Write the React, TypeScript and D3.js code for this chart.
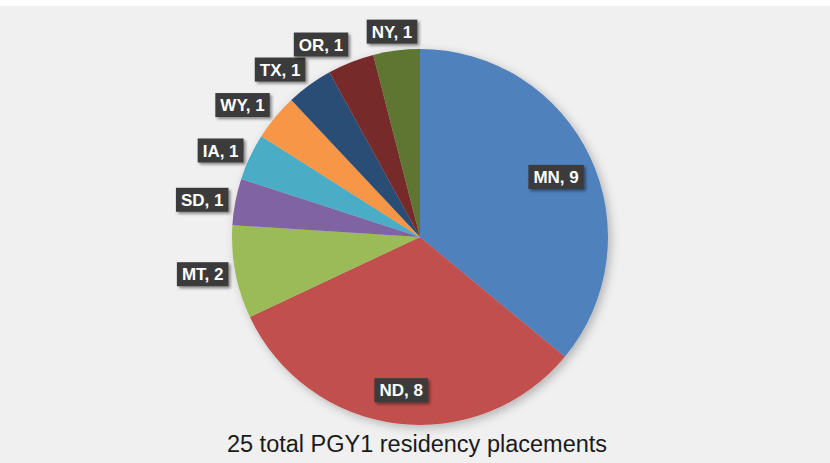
import React, { useEffect, useRef } from 'react';
import * as d3 from 'd3';

const STATES = ['MN', 'ND', 'MT', 'SD', 'IA', 'WY', 'TX', 'OR', 'NY'];
const PLACEMENTS = [9, 8, 2, 1, 1, 1, 1, 1, 1];
const COLORS = ['#4F81BD', '#C0504D', '#9BBB59', '#8064A2', '#4BACC6', '#F79646', '#2C4D75', '#772C2A', '#5F7530'];
const INSIDE = ['MN', 'ND'];
const TITLE = '25 total PGY1 residency placements';

const clamp = (v: number) => Math.max(-1, Math.min(1, v));

const App = () => {
  const ref = useRef<SVGSVGElement>(null);

  useEffect(() => {
    const width = 830;
    const height = 463;
    const cx = 420;
    const cy = 237;
    const radius = 188;

    const svg = d3.select(ref.current);
    svg.selectAll('*').remove();
    svg.attr('width', width).attr('height', height);

    const defs = svg.append('defs');
    const pieShadow = defs.append('filter').attr('id', 'pieShadow')
      .attr('x', '-20%').attr('y', '-20%').attr('width', '140%').attr('height', '140%');
    pieShadow.append('feDropShadow')
      .attr('dx', 3).attr('dy', 3).attr('stdDeviation', 5)
      .attr('flood-color', '#000').attr('flood-opacity', 0.25);

    const boxShadow = defs.append('filter').attr('id', 'boxShadow')
      .attr('x', '-20%').attr('y', '-30%').attr('width', '150%').attr('height', '170%');
    boxShadow.append('feDropShadow')
      .attr('dx', 2).attr('dy', 2).attr('stdDeviation', 1.5)
      .attr('flood-color', '#000').attr('flood-opacity', 0.45);

    // background
    svg.append('rect').attr('width', width).attr('height', height).attr('fill', '#fff');
    svg.append('rect').attr('y', 6).attr('width', width).attr('height', height - 6).attr('fill', '#f0f0f0');

    const data = STATES.map((name, i) => ({ name, value: PLACEMENTS[i] }));
    const pie = d3.pie<{ name: string; value: number }>().value(d => d.value).sort(null);
    const arcs = pie(data);
    const arc = d3.arc<d3.PieArcDatum<{ name: string; value: number }>>()
      .innerRadius(0).outerRadius(radius);

    const g = svg.append('g').attr('transform', `translate(${cx},${cy})`);

    g.append('g').attr('filter', 'url(#pieShadow)')
      .selectAll('path')
      .data(arcs)
      .enter()
      .append('path')
      .attr('d', arc)
      .attr('fill', (_, i) => COLORS[i]);

    // data labels (dark boxes)
    const fontSize = 17;
    const boxH = 24;
    const padX = 5;
    const labels = g.append('g');

    arcs.forEach(d => {
      const text = `${d.data.name}, ${d.data.value}`;
      const mid = (d.startAngle + d.endAngle) / 2;
      const s = Math.sin(mid);
      const c = -Math.cos(mid);

      const lg = labels.append('g');
      const t = lg.append('text')
        .attr('text-anchor', 'middle')
        .attr('dy', '0.36em')
        .attr('font-family', 'Liberation Sans, Arial, sans-serif')
        .attr('font-weight', 'bold')
        .attr('font-size', fontSize)
        .attr('fill', '#fff')
        .text(text);
      const tw = (t.node() as SVGTextElement).getComputedTextLength();
      const boxW = tw + padX * 2;

      let x: number;
      let y: number;
      if (INSIDE.includes(d.data.name)) {
        const lr = radius * 0.8;
        x = s * lr;
        y = c * lr + 4;
      } else {
        // outside end: box edge sits just off the rim
        const lr = radius + 7;
        const sx = clamp(s * 3) * Math.min(1, Math.abs(s) * 3);
        const sy = clamp(c * 1.6) * Math.abs(c);
        x = s * lr + sx * boxW / 2;
        y = c * lr + sy * boxH / 2;
      }

      lg.attr('transform', `translate(${x},${y})`);
      lg.insert('rect', 'text')
        .attr('x', -boxW / 2)
        .attr('y', -boxH / 2)
        .attr('width', boxW)
        .attr('height', boxH)
        .attr('fill', '#3b3b3b')
        .attr('filter', 'url(#boxShadow)');
    });

    svg.append('text')
      .attr('x', 417)
      .attr('y', 452)
      .attr('text-anchor', 'middle')
      .attr('font-family', 'Liberation Sans, Arial, sans-serif')
      .attr('font-size', 23.5)
      .attr('fill', '#1a1a1a')
      .text(TITLE);
  }, []);

  return <svg ref={ref} style={{ position: 'absolute', left: 0, top: 0 }}></svg>;
};

export default App;
